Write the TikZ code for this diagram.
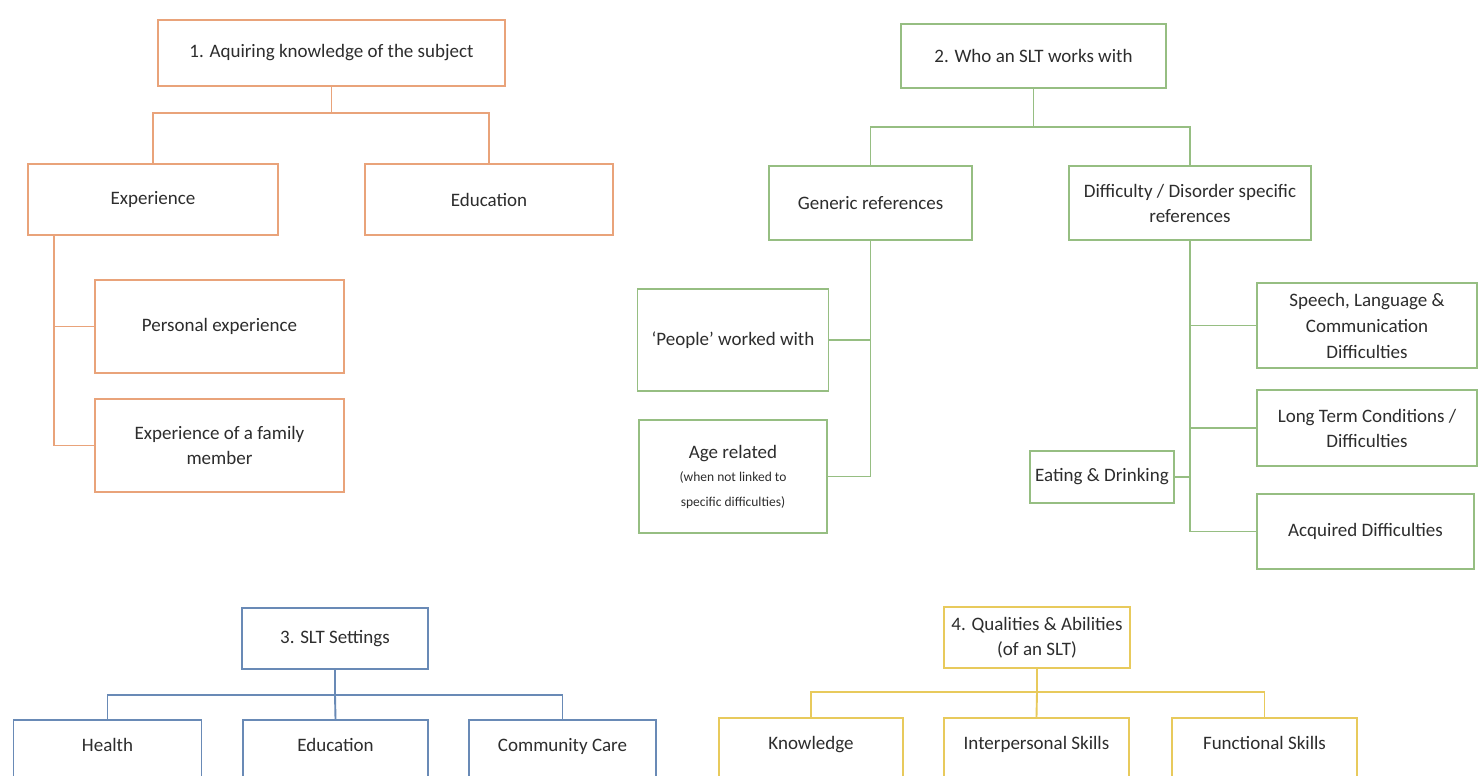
\documentclass[tikz,border=0pt]{standalone}
\usepackage{fontspec}
\setmainfont{Carlito}
\usetikzlibrary{calc}

\definecolor{txt}{RGB}{45,45,45}
\definecolor{cOrange}{RGB}{233,163,122}
\definecolor{cGreen}{RGB}{150,190,130}
\definecolor{cBlue}{RGB}{105,138,182}
\definecolor{cYellow}{RGB}{232,202,92}

\tikzset{
  box/.style={draw, line width=1.9pt, rectangle, align=center, inner sep=0pt,
    text=txt, font=\fontsize{19}{25}\selectfont},
  obox/.style={box, draw=cOrange},
  gbox/.style={box, draw=cGreen},
  bbox/.style={box, draw=cBlue},
  ybox/.style={box, draw=cYellow},
  link/.style={line width=1.9pt},
  olink/.style={link, draw=cOrange},
  glink/.style={link, draw=cGreen},
  blink/.style={link, draw=cBlue},
  ylink/.style={link, draw=cYellow},
  % boxes running off the lower edge: text sits near their top
  cutbox/.style={anchor=north, text height=32pt, text depth=27pt}
}
\newcommand{\smalltxt}{\fontsize{13.5}{20}\selectfont}

\begin{document}
\begin{tikzpicture}[x=1pt,y=-1pt]
\useasboundingbox (0,0) rectangle (1480,776);
\fill[white] (0,0) rectangle (1480,776);
\clip (0,0) rectangle (1480,776);

% ---------- 1. Acquiring knowledge ----------
\node[obox, minimum width=347pt, minimum height=66pt] (k1) at (331.5,53) {1. Aquiring knowledge of the subject};
\node[obox, minimum width=250pt, minimum height=71pt] (exp) at (153,199.5) {Experience};
\node[obox, minimum width=248pt, minimum height=71pt] (edu) at (489,199.5) {Education};
\node[obox, minimum width=249pt, minimum height=93pt] (pers) at (219.5,326.5) {Personal experience};
\node[obox, minimum width=249pt, minimum height=93pt] (fam) at (219.5,445.5) {Experience of a family\\member};

\coordinate (b1) at (331.5,113);
\coordinate (e0) at ($(exp.south west)+(27,0)$);
\draw[olink] (k1.south) -- (b1);
\draw[olink] (exp.north) |- (b1) -| (edu.north);
\draw[olink] (e0) |- (pers.west);
\draw[olink] (e0) |- (fam.west);

% ---------- 2. Who an SLT works with ----------
\node[gbox, minimum width=265pt, minimum height=64pt] (k2) at (1033.5,56) {2. Who an SLT works with};
\node[gbox, minimum width=203pt, minimum height=74pt] (gen) at (870.5,203) {Generic references};
\node[gbox, minimum width=242pt, minimum height=74pt] (dif) at (1190,203) {Difficulty / Disorder specific\\references};
\node[gbox, minimum width=191pt, minimum height=102pt] (ppl) at (733,340) {`People' worked with};
\node[gbox, minimum width=188pt, minimum height=113pt] (age) at (733,476.5)
  {Age related\\[-2pt]\smalltxt (when not linked to\\\smalltxt specific difficulties)};
\node[gbox, minimum width=220pt, minimum height=85pt, font=\fontsize{19}{26}\selectfont] (sp) at (1367,325.5) {Speech, Language \&\\Communication\\Difficulties};
\node[gbox, minimum width=220pt, minimum height=76pt] (ltc) at (1367,428) {Long Term Conditions /\\Difficulties};
\node[gbox, minimum width=144pt, minimum height=52pt] (eat) at (1102,477) {Eating \& Drinking};
\node[gbox, minimum width=217pt, minimum height=75pt] (acq) at (1365.5,531.5) {Acquired Difficulties};

\coordinate (b2) at (1033.5,127);
\draw[glink] (k2.south) -- (b2);
\draw[glink] (gen.north) |- (b2) -| (dif.north);
\draw[glink] (gen.south) |- (ppl.east);
\draw[glink] (gen.south) |- (age.east);
\draw[glink] (dif.south) |- (sp.west);
\draw[glink] (dif.south) |- (ltc.west);
\draw[glink] (dif.south) |- (eat.east);
\draw[glink] (dif.south) |- (acq.west);

% ---------- 3. SLT Settings ----------
\node[bbox, minimum width=186pt, minimum height=61pt] (k3) at (335,638.5) {3. SLT Settings};
\node[bbox, cutbox, minimum width=188pt] (hea) at (107.5,719) {Health};
\node[bbox, cutbox, minimum width=185pt] (edu3) at (335.5,719) {Education};
\node[bbox, cutbox, minimum width=187pt] (com) at (562.5,719) {Community Care};

\coordinate (b3) at (335,695);
\draw[blink] (k3.south) -- (b3);
\draw[blink] (hea.north) |- (b3) -| (com.north);
\draw[blink] (b3) -- (edu3.north);

% ---------- 4. Qualities & Abilities ----------
\node[ybox, minimum width=186pt, minimum height=61pt] (k4) at (1037,637.5) {4. Qualities \& Abilities\\(of an SLT)};
\node[ybox, cutbox, minimum width=184pt] (kno) at (811,717) {Knowledge};
\node[ybox, cutbox, minimum width=185pt] (int) at (1036.5,717) {Interpersonal Skills};
\node[ybox, cutbox, minimum width=185pt] (fun) at (1264.5,717) {Functional Skills};

\coordinate (b4) at (1037,692);
\draw[ylink] (k4.south) -- (b4);
\draw[ylink] (kno.north) |- (b4) -| (fun.north);
\draw[ylink] (b4) -- (int.north);
\end{tikzpicture}
\end{document}
